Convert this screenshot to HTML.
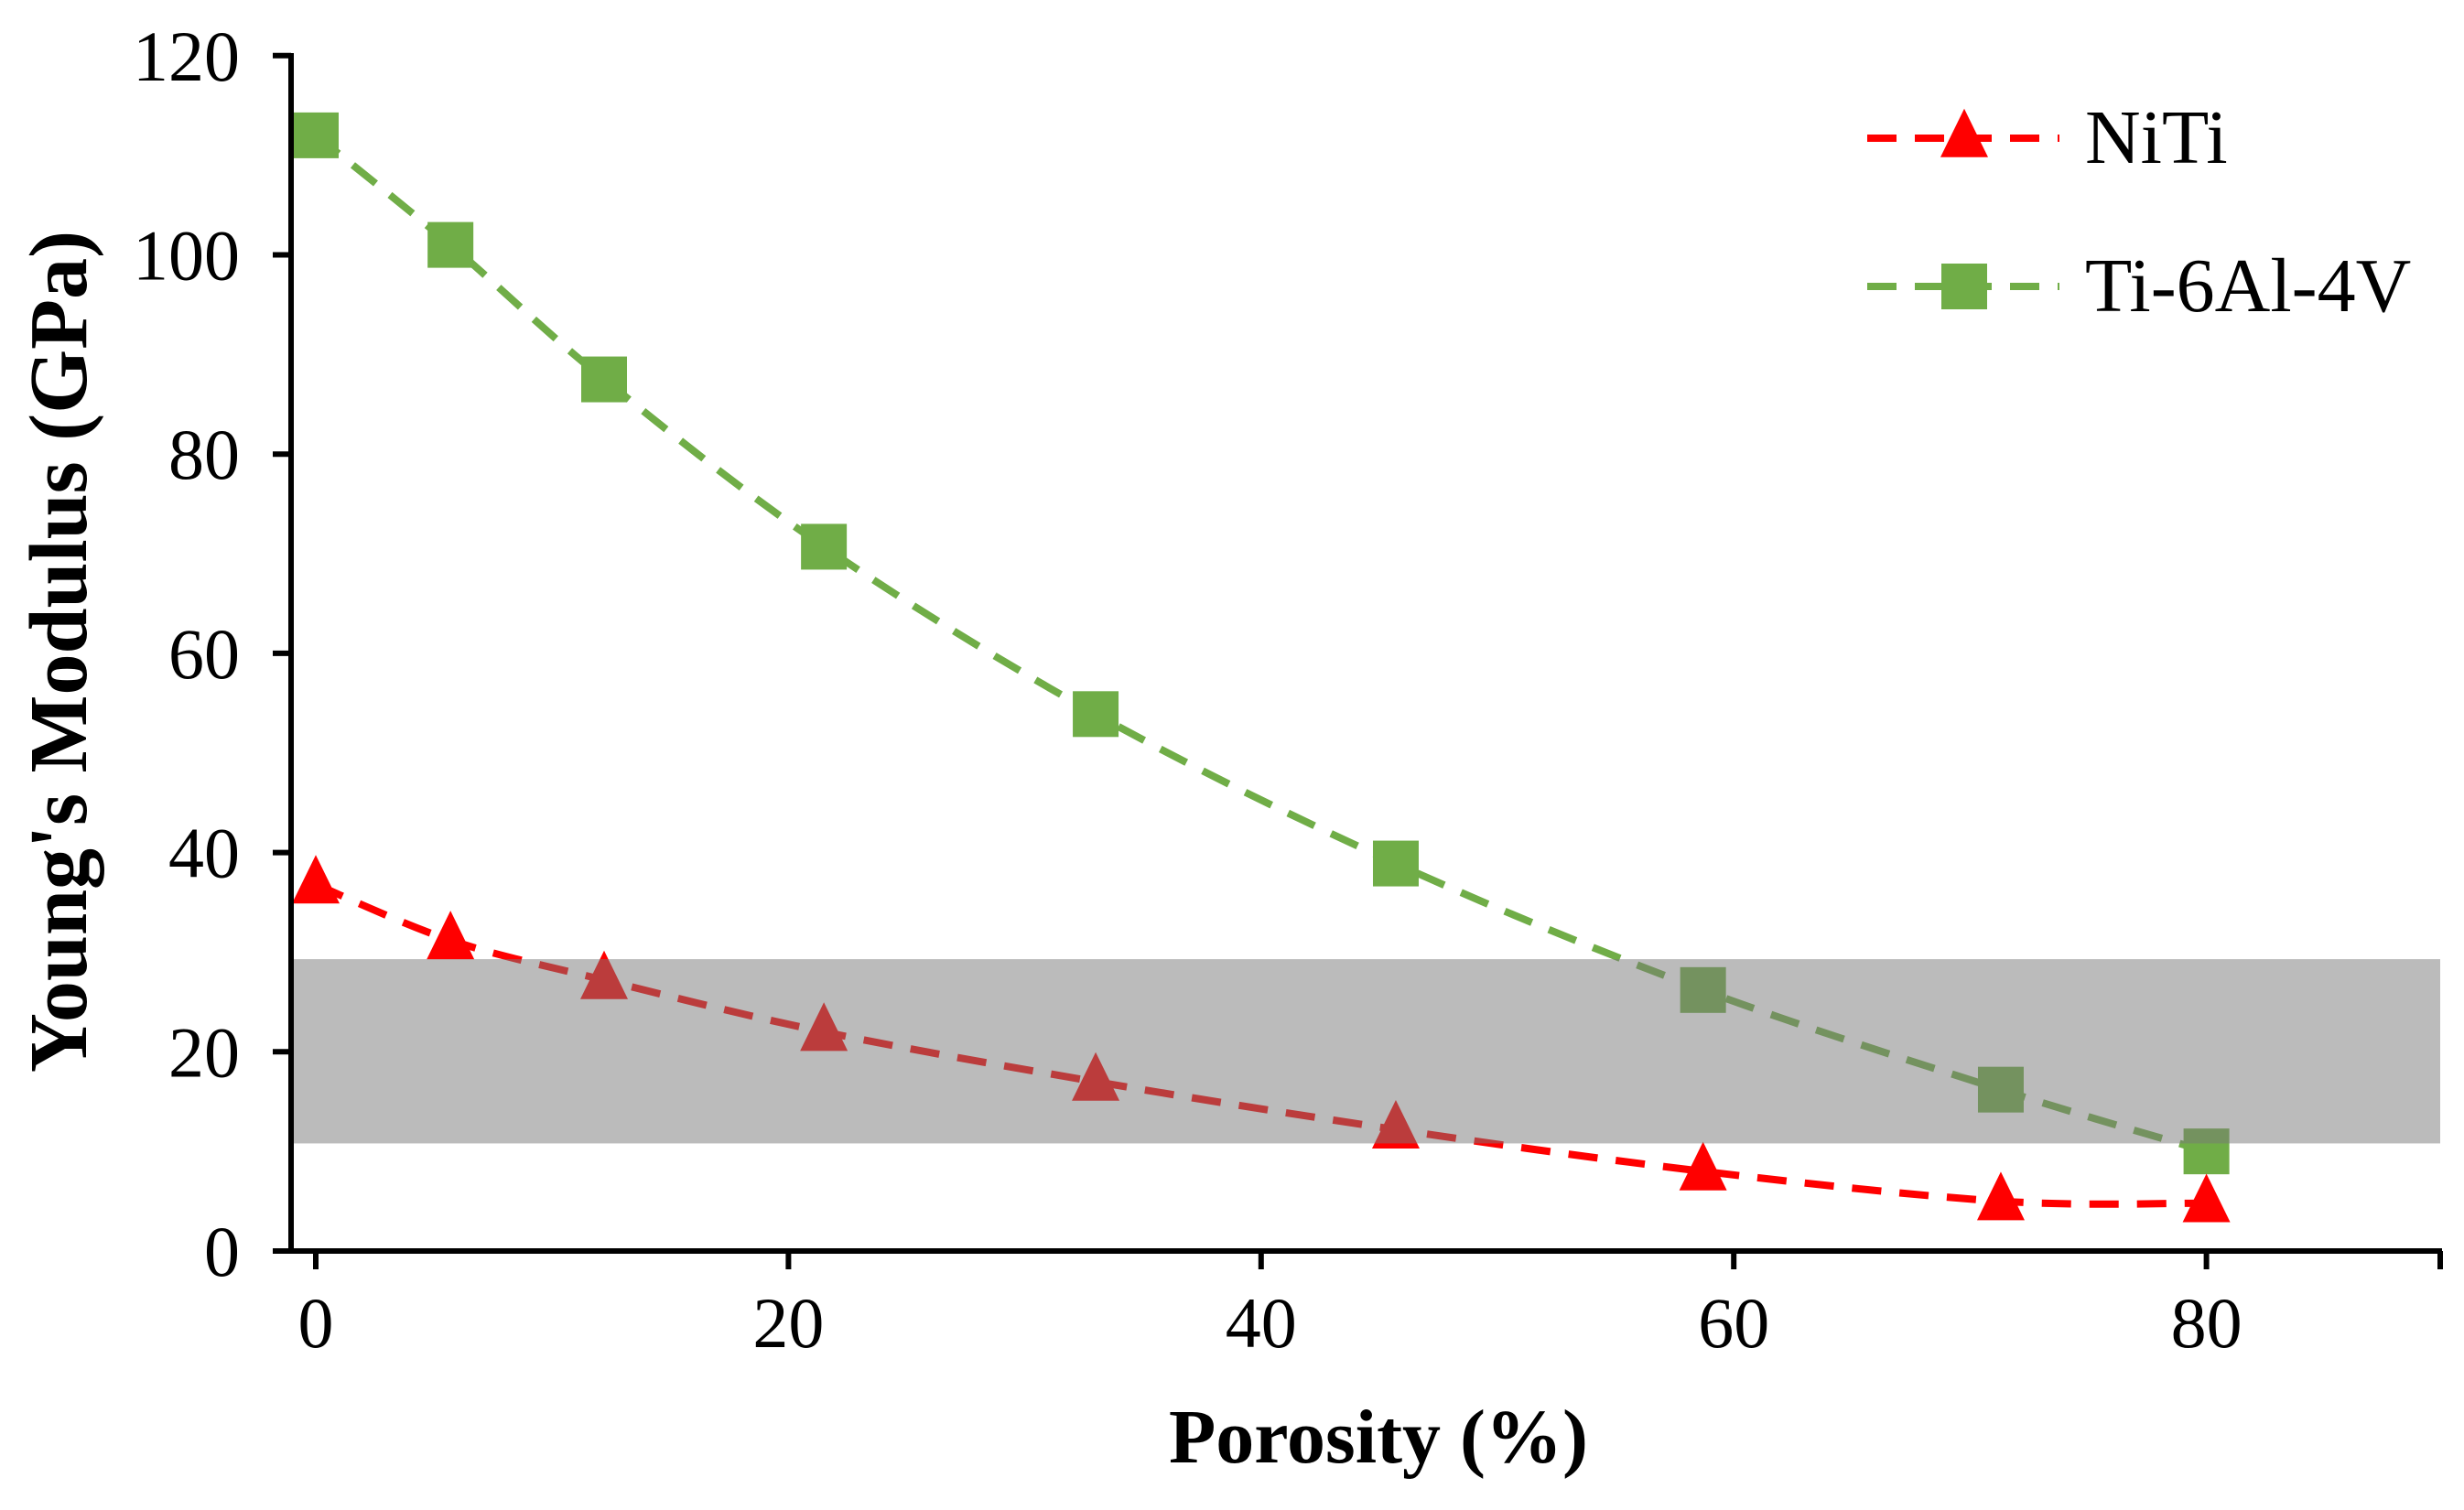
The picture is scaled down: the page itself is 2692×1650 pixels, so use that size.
<!DOCTYPE html>
<html><head><meta charset="utf-8"><style>
html,body{margin:0;padding:0;background:#fff;}
svg{display:block;font-family:"Liberation Serif",serif;}
</style></head><body>
<svg id="chart" width="2692" height="1650" viewBox="0 0 2692 1650">
<g id="plot"></g>
</svg>
<script>
const porosity = [0, 5.7, 12.2, 21.5, 33, 45.7, 58.7, 71.3, 80];
const tiValues = [112, 101, 87.5, 70.7, 53.9, 38.9, 26.2, 16.2, 10];
const nitiValues = [36.8, 31.2, 27.2, 22, 17, 12.2, 8, 5, 4.8];
const xTicks = [0, 20, 40, 60, 80];
const yTicks = [0, 20, 40, 60, 80, 100, 120];
const bandRange = [10.8, 29.3];

const NS = "http://www.w3.org/2000/svg";
const X0 = 345, XS = 25.82, Y0 = 1367, YS = 10.885;
const xs = v => X0 + v * XS;
const ys = v => Y0 - v * YS;
const g = document.getElementById('plot');
function mk(tag, attrs, parent) {
  const e = document.createElementNS(NS, tag);
  for (const k in attrs) e.setAttribute(k, attrs[k]);
  (parent || g).appendChild(e);
  return e;
}
function smoothPath(xv, yv) {
  const p = xv.map((x, i) => [xs(x), ys(yv[i])]);
  let d = `M${p[0][0]},${p[0][1]}`;
  for (let i = 0; i < p.length - 1; i++) {
    const p0 = p[i - 1] || p[i], p1 = p[i], p2 = p[i + 1], p3 = p[i + 2] || p2;
    const c1 = [p1[0] + (p2[0] - p0[0]) / 6, p1[1] + (p2[1] - p0[1]) / 6];
    const c2 = [p2[0] - (p3[0] - p1[0]) / 6, p2[1] - (p3[1] - p1[1]) / 6];
    d += ` C${c1[0]},${c1[1]} ${c2[0]},${c2[1]} ${p2[0]},${p2[1]}`;
  }
  return d;
}
function tri(cx, cy, s, fill, parent) {
  return mk('polygon', {points: `${cx},${cy - s * 0.62} ${cx - s / 2},${cy + s * 0.4} ${cx + s / 2},${cy + s * 0.4}`, fill: fill}, parent);
}
const tiLine = mk('path', {d: smoothPath(porosity, tiValues), fill: 'none', stroke: '#70AD47', 'stroke-width': 8, 'stroke-dasharray': '32 20'});


const niLine = mk('path', {d: smoothPath(porosity, nitiValues), fill: 'none', stroke: '#FF0000', 'stroke-width': 8, 'stroke-dasharray': '32 20'});


porosity.forEach((x, i) => {
  const sq = mk('rect', {x: xs(x) - 25, y: ys(tiValues[i]) - 25, width: 50, height: 50, fill: '#70AD47'});
  
  
  const t = tri(xs(x), ys(nitiValues[i]), 52, '#FF0000');
  
  
});
const band = mk('rect', {x: 318, y: ys(bandRange[1]), width: 2666 - 318, height: ys(bandRange[0]) - ys(bandRange[1]), fill: 'rgb(120,120,120)', 'fill-opacity': 0.5});


const ax = mk('line', {x1: 316, y1: Y0, x2: 2668, y2: Y0, stroke: '#000', 'stroke-width': 6});


const ay = mk('line', {x1: 318, y1: 58, x2: 318, y2: Y0 + 3, stroke: '#000', 'stroke-width': 6});


yTicks.forEach(v => {
  mk('line', {x1: 298, y1: ys(v), x2: 318, y2: ys(v), stroke: '#000', 'stroke-width': 6});
  const t = mk('text', {x: 262, y: ys(v) + 27, 'text-anchor': 'end', 'font-size': 78});
  t.textContent = v;
  
  
});
xTicks.forEach(v => {
  mk('line', {x1: xs(v), y1: Y0, x2: xs(v), y2: Y0 + 20, stroke: '#000', 'stroke-width': 6});
  const t = mk('text', {x: xs(v), y: 1472, 'text-anchor': 'middle', 'font-size': 78});
  t.textContent = v;
  
  
});
mk('line', {x1: 2666, y1: Y0, x2: 2666, y2: Y0 + 20, stroke: '#000', 'stroke-width': 6});
const xt = mk('text', {x: 1506, y: 1598, 'text-anchor': 'middle', 'font-size': 84, 'font-weight': 'bold'});
xt.textContent = 'Porosity (%)';


const yt = mk('text', {x: 0, y: 0, 'text-anchor': 'middle', 'font-size': 90, 'font-weight': 'bold', transform: 'translate(94,712) rotate(-90)'});
yt.textContent = "Young's Modulus (GPa)";


const l1 = mk('g', {});


mk('line', {x1: 2040, y1: 151, x2: 2250, y2: 151, stroke: '#FF0000', 'stroke-width': 8, 'stroke-dasharray': '32 20'}, l1);
tri(2146, 151, 52, '#FF0000', l1);
const lt1 = mk('text', {x: 2278, y: 178, 'font-size': 84}, l1);
lt1.textContent = 'NiTi';
const l2 = mk('g', {});


mk('line', {x1: 2040, y1: 313, x2: 2250, y2: 313, stroke: '#70AD47', 'stroke-width': 8, 'stroke-dasharray': '32 20'}, l2);
mk('rect', {x: 2121, y: 288, width: 50, height: 50, fill: '#70AD47'}, l2);
const lt2 = mk('text', {x: 2278, y: 340, 'font-size': 84}, l2);
lt2.textContent = 'Ti-6Al-4V';
</script>
</body></html>
